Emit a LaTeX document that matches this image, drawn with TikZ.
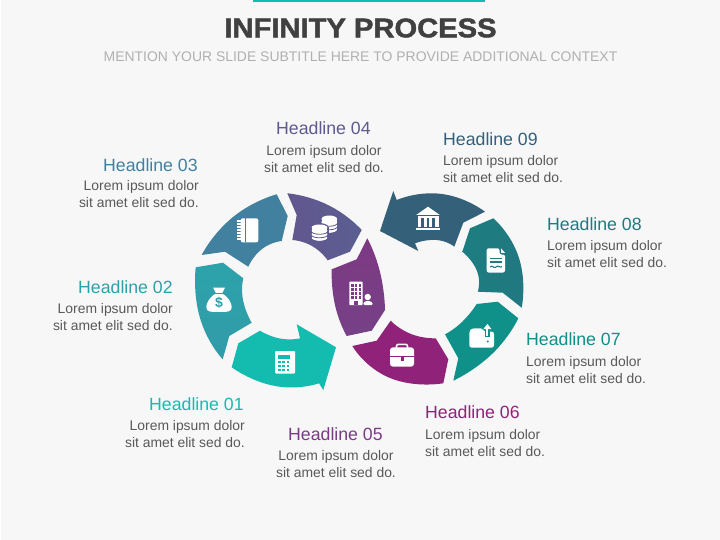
\documentclass[tikz,border=0pt]{standalone}
\usepackage{fontspec}
\setmainfont{Liberation Sans}
\newfontfamily\ttlfont{Liberation Sans Bold}[FakeBold=1.6,FakeStretch=1.08]
\definecolor{bg}{HTML}{F7F7F7}
\definecolor{bar}{HTML}{14BCB0}
\definecolor{ttl}{HTML}{404040}
\definecolor{sub}{HTML}{B0B0B0}
\definecolor{body}{HTML}{595959}
\definecolor{cA}{HTML}{14BCB0}
\definecolor{cB}{HTML}{2FA0AA}
\definecolor{cC}{HTML}{42809F}
\definecolor{cD}{HTML}{5E5A90}
\definecolor{cE}{HTML}{7A3D85}
\definecolor{cF}{HTML}{912279}
\definecolor{cG}{HTML}{0F9088}
\definecolor{cH}{HTML}{1F7A80}
\definecolor{cI}{HTML}{34607A}
\tikzset{
 hd/.style={inner sep=0pt,font=\fontsize{17.7}{20}\selectfont},
 bt/.style={inner sep=0pt,text=body,font=\fontsize{13.9}{17}\selectfont,align=#1},
 crv/.style={smooth,tension=1},
 ico/.style={fill=white,draw=none}
}
\begin{document}
\begin{tikzpicture}[x=1pt,y=-1pt]
\useasboundingbox (0,0) rectangle (720,540);
\fill[white] (0,0) rectangle (720,540);
\fill[bg] (1,0) rectangle (720,540);
\fill[bar] (253,0) rectangle (485,2.5);
\node[inner sep=0pt,text=ttl,font=\ttlfont\fontsize{27}{30}\selectfont] (title) at (360.5,28) {INFINITY PROCESS};
\node[inner sep=0pt,text=sub,font=\fontsize{13.95}{17}\selectfont] (subtitle) at (360.5,57) {MENTION YOUR SLIDE SUBTITLE HERE TO PROVIDE ADDITIONAL CONTEXT};
% segments
\fill[cA] (238.3,343.3) -- (260,330.7) -- plot[crv] coordinates {(260,330.7)(280,338.5)(300,338.3)} -- (296.7,324.3) -- (336,347.3) -- (323.3,390) -- (319,383.3) -- plot[crv] coordinates {(319,383.3)(275,386)(231.7,367.3)} -- cycle;
\shade[top color=cB!90!cA,bottom color=cB!85!cC] (195.7,267.3) -- (223,262.7) -- (243.3,278.3) -- plot[crv] coordinates {(243.3,278.3)(243,300)(251.7,322.7)} -- (229.3,336) -- (222.7,359.3) -- plot[crv] coordinates {(222.7,359.3)(200,318)(195.7,267.3)} -- cycle;
\fill[cC] (201.7,255) -- plot[crv] coordinates {(201.7,255)(233,217)(276.7,194.3)} -- (287.7,216) -- (281.7,241) -- plot[crv] coordinates {(281.7,241)(262,249)(248.3,266.7)} -- (225,251.7) -- cycle;
\shade[left color=cD!90!cE,right color=cD!90!cC] (287.3,193.3) -- plot[crv] coordinates {(287.3,193.3)(328,205)(361.7,230)} -- (350,251.7) -- (327.7,260.3) -- plot[crv] coordinates {(327.7,260.3)(312,246)(292.3,240)} -- (296.7,215) -- cycle;
\shade[top color=cE!85!cF,bottom color=cE!85!cD] (367.3,238.3) -- plot[crv] coordinates {(367.3,238.3)(380,272)(385,310)} -- (371.7,330.7) -- (346.7,336) -- plot[crv] coordinates {(346.7,336)(335,305)(331.7,269.3)} -- (356.7,259.3) -- cycle;
\fill[cF] (352.3,346) -- (376.7,340.7) -- (390.7,320.7) -- plot[crv] coordinates {(390.7,320.7)(411,334)(435.7,338.3)} -- (448.3,359.3) -- (443.3,383.3) -- plot[crv] coordinates {(443.3,383.3)(390,378)(352.3,346)} -- cycle;
\fill[cG] (445,334.3) -- plot[crv] coordinates {(445,334.3)(462,322)(476.7,304)} -- (497.7,301.7) -- (518.3,318.3) -- plot[crv] coordinates {(518.3,318.3)(492,354)(453.3,380.7)} -- (458.3,358.3) -- cycle;
\shade[left color=cH!80!cG,right color=cH!90!cI] (493.3,218.3) -- plot[crv] coordinates {(493.3,218.3)(519,258)(521.7,307.7)} -- (502.7,292.7) -- (477.7,291.7) -- plot[crv] coordinates {(477.7,291.7)(477,271)(462.3,251.7)} -- (470,228.3) -- cycle;
\fill[cI] (485,211.7) -- plot[crv] coordinates {(485,211.7)(442,194)(396.7,200)} -- (393.3,191) -- (380,231) -- (418.3,251) -- (415,243.3) -- plot[crv] coordinates {(415,243.3)(436.7,240)(454.3,246.7)} -- (463.3,222.7) -- cycle;
% icon 01 calculator
\fill[ico,rounded corners=1pt] (275,351) rectangle (295,373.5);
\fill[cA] (277.7,354.5) rectangle (289.5,358.5);
\foreach \x in {278,282.4,286.8}\foreach \y in {361,365,369}{\fill[cA] (\x,\y) rectangle +(2.6,2.4);}
% icon 02 money bag
\fill[ico] (213,287.5) -- (225,287.5) -- (222,293.5) .. controls (230,297) and (237,311.8) .. (226,311.8) -- (212,311.8) .. controls (201,311.8) and (208,297) .. (216,293.5) -- cycle;
\fill[cB] (214.5,292.6) rectangle (223.5,293.6);
\node[inner sep=0pt,text=cB,font=\fontsize{14}{14}\bfseries\selectfont] (dollar) at (219,303) {\$};
% icon 03 notebook
\fill[ico,rounded corners=2pt] (240.7,218.3) rectangle (258.3,242.3);
\foreach \y in {220,223,...,240}{\fill[ico] (236.7,\y) rectangle (241,\y+1.6);}
\fill[cC] (245.2,218.3) rectangle (246.2,242.3);
% icon 04 coins
\foreach \y in {226,222.5,219}{
 \fill[ico] (321.5,\y) rectangle (337,\y+3.5);
 \fill[ico] (329.3,\y+3.5) ellipse (7.8 and 3.5);
 \draw[cD,line width=.8pt] (321,\y+3.7) arc[start angle=180,end angle=360,x radius=8.3,y radius=-3.6];
 \fill[ico] (329.3,\y) ellipse (7.8 and 3.5);
}
\fill[cD] (319.5,227.5) ellipse (9 and 4.5);
\fill[cD] (310.5,227.5) rectangle (328.5,238);
\fill[cD] (319.5,238) ellipse (9 and 4.2);
\foreach \y in {234.5,231,227.5}{
 \fill[ico] (311.7,\y) rectangle (327.3,\y+3.5);
 \fill[ico] (319.5,\y+3.5) ellipse (7.8 and 3);
 \draw[cD,line width=.8pt] (311.2,\y+3.7) arc[start angle=180,end angle=360,x radius=8.3,y radius=-3.1];
 \fill[ico] (319.5,\y) ellipse (7.8 and 3);
}
% icon centre building and person
\fill[ico,rounded corners=.6pt] (349.3,281.7) rectangle (362.5,305);
\foreach \x in {351.3,355,358.7}\foreach \y in {284,288,292,296}{\fill[cE] (\x,\y) rectangle +(2.4,2.6);}
\fill[cE] (354.3,300.5) rectangle (357.5,305);
\fill[ico] (367.7,297) circle (3.2);
\fill[ico,rounded corners=1.2pt] (363.3,305) -- (363.3,303) -- (365,301.2) -- (370.8,301.2) -- (372.7,303) -- (372.7,305) -- cycle;
% icon 06 briefcase
\draw[white,line width=1.6pt,rounded corners=2pt] (396.5,348) -- (396.5,344.3) -- (407.5,344.3) -- (407.5,348);
\fill[ico,rounded corners=3pt] (390,347.3) rectangle (414,366.7);
\fill[cF] (390,356.2) rectangle (414,357.4);
\fill[cF] (400.6,355.5) rectangle (404.2,360.5);
% icon 07 wallet with arrow
\fill[ico,rounded corners=2.5pt] (469.3,331) -- (472,328.3) -- (483,328.3) -- (483,331.5) -- (494,331.5) -- (494,347.7) -- (469.3,347.7) -- cycle;
\fill[cG] (485,328) rectangle (490,337);
\fill[ico] (486.4,326.5) rectangle (488.4,335.7);
\fill[ico] (483.4,329) -- (487.4,324) -- (491.4,329) -- cycle;
\fill[cG] (487.7,341.5) circle (1.1);
% icon 08 document
\fill[ico,rounded corners=2pt] (486.7,248.3) -- (499.5,248.3) -- (499.5,254.5) -- (505,254.5) -- (505,272.5) -- (486.7,272.5) -- cycle;
\fill[ico] (501,248.3) -- (505,252.8) -- (501,252.8) -- cycle;
\foreach \y in {257.6,261.4}{\fill[cH] (490,\y) rectangle (502,\y+1.2);}
\draw[cH,line width=1.1pt] (490,267) .. controls (492.5,264.2) and (494,269.4) .. (496,267) .. controls (498,264.6) and (500,268.4) .. (502,266.6);
% icon 09 bank
\fill[ico] (416.2,215) -- (428,206.7) -- (439.8,215) -- cycle;
\fill[ico] (417.5,216) rectangle (438.5,227.5);
\foreach \x in {421.2,426.6,432}{\fill[cI] (\x,218) rectangle +(2.6,9.5);}
\fill[ico] (416,227.8) rectangle (440,230);
% labels
\node[hd,text=cC,anchor=mid west] (h3) at (103,169) {Headline 03};
\node[bt=right,anchor=north east] (b3) at (199,180) {Lorem ipsum dolor\\sit amet elit sed do.};
\node[hd,text=cB,anchor=mid west] (h2) at (78,291) {Headline 02};
\node[bt=right,anchor=north east] (b2) at (173,303) {Lorem ipsum dolor\\sit amet elit sed do.};
\node[hd,text=cA,anchor=mid west] (h1) at (149,408) {Headline 01};
\node[bt=right,anchor=north east] (b1) at (245,420) {Lorem ipsum dolor\\sit amet elit sed do.};
\node[hd,text=cD,anchor=mid west] (h4) at (276,132) {Headline 04};
\node[bt=center,anchor=north] (b4) at (324,145) {Lorem ipsum dolor\\sit amet elit sed do.};
\node[hd,text=cE,anchor=mid west] (h5) at (288,438) {Headline 05};
\node[bt=center,anchor=north] (b5) at (336,450) {Lorem ipsum dolor\\sit amet elit sed do.};
\node[hd,text=cF,anchor=mid west] (h6) at (425,416) {Headline 06};
\node[bt=left,anchor=north west] (b6) at (425,429) {Lorem ipsum dolor\\sit amet elit sed do.};
\node[hd,text=cG,anchor=mid west] (h7) at (526,343) {Headline 07};
\node[bt=left,anchor=north west] (b7) at (526,356) {Lorem ipsum dolor\\sit amet elit sed do.};
\node[hd,text=cH,anchor=mid west] (h8) at (547,228) {Headline 08};
\node[bt=left,anchor=north west] (b8) at (547,240) {Lorem ipsum dolor\\sit amet elit sed do.};
\node[hd,text=cI,anchor=mid west] (h9) at (443,143) {Headline 09};
\node[bt=left,anchor=north west] (b9) at (443,155) {Lorem ipsum dolor\\sit amet elit sed do.};
\end{tikzpicture}
\end{document}
